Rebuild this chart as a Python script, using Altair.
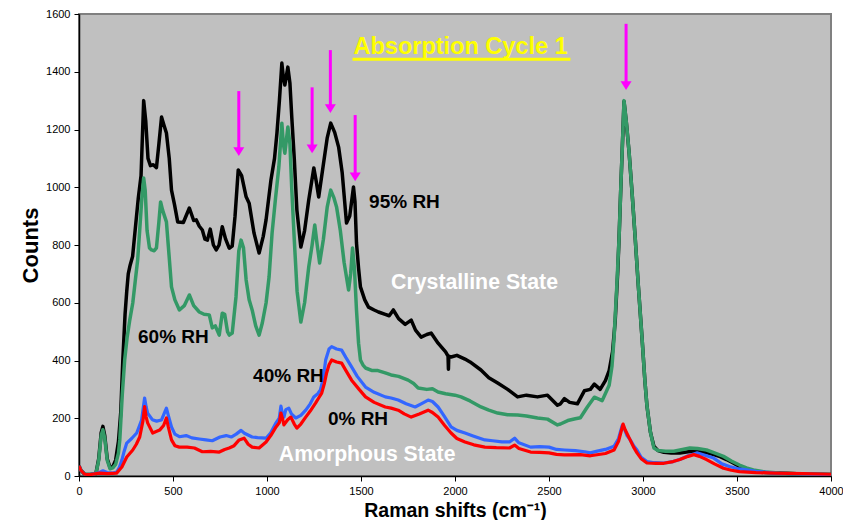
import altair as alt
import pandas as pd

# ---------------- data ----------------
series_names = ["95% RH", "60% RH", "40% RH", "0% RH"]
series_colors = ["#000000", "#339966", "#3366FF", "#FF0000"]
series_widths = [3.5, 3.5, 3.2, 3.2]

x_95 = [0, 10, 30, 60, 90, 105, 118, 127, 137, 150, 165, 180, 195, 210, 222, 233, 245, 254, 262, 272,
        285, 300, 315, 330, 344, 355, 367, 380, 395, 412, 425, 439, 452, 465, 480, 492, 508, 525, 555,
        587, 610, 624, 640, 656, 670, 683, 698, 715, 730, 745, 762, 780, 799, 815, 830, 847, 865, 889,
        905, 931, 958, 980, 995, 1021, 1040, 1053, 1066, 1079, 1087, 1095, 1111, 1122, 1132, 1145, 1159,
        1180, 1200, 1222, 1249, 1262, 1275, 1300, 1320, 1339, 1360, 1381, 1400, 1423, 1440, 1460, 1468,
        1476, 1487, 1497, 1520, 1540, 1570, 1593, 1629, 1650, 1672, 1700, 1735, 1767, 1790, 1820, 1850,
        1873, 1910, 1950, 1963, 1965, 1967, 1979, 2010, 2053, 2080, 2138, 2180, 2227, 2280, 2333, 2380,
        2439, 2492, 2545, 2561, 2582, 2610, 2651, 2688, 2720, 2741, 2772, 2800, 2820, 2838, 2852, 2865,
        2873, 2882, 2889, 2899, 2912, 2926, 2942, 2958, 2975, 2995, 3010, 3021, 3040, 3058, 3080, 3111,
        3150, 3196, 3240, 3286, 3330, 3376, 3410, 3444, 3480, 3513, 3550, 3587, 3650, 3725, 3850, 4000]
y_95 = [35, 20, 6, 5, 8, 60, 150, 172, 140, 60, 30, 32, 55, 120, 220, 400, 560, 640, 700, 730,
        760, 860, 960, 1040, 1300, 1230, 1100, 1075, 1078, 1068, 1150, 1243, 1215, 1188, 1100, 990, 940, 880, 878,
        928, 885, 887, 865, 852, 820, 817, 855, 800, 783, 800, 863, 820, 789, 796, 900, 1060, 1040, 967,
        945, 841, 772, 830, 887, 1025, 1100, 1188, 1300, 1430, 1380, 1354, 1416, 1360, 1240, 1100, 921,
        793, 850, 956, 1067, 1020, 966, 1080, 1170, 1222, 1190, 1139, 1050, 876, 900, 1001, 950,
        807, 720, 655, 610, 585, 575, 568, 560, 555, 575, 545, 525, 540, 505, 481, 490,
        495, 460, 430, 415, 370, 415, 412, 418, 405, 395, 367, 340, 322, 300, 274, 280,
        274, 280, 245, 250, 268, 255, 250, 295, 300, 318, 300, 330, 365, 430, 536, 700,
        829, 1000, 1121, 1297, 1220, 1121, 980, 829, 660, 477, 330, 243, 150, 103, 88, 82,
        80, 80, 84, 86, 82, 74, 67, 57, 45, 33, 22, 15, 12, 10, 7, 5]

x_60 = [0, 10, 30, 60, 90, 105, 118, 127, 137, 150, 165, 180, 195, 210, 217, 230, 243, 256, 270, 286,
        300, 312, 323, 334, 344, 352, 362, 375, 386, 400, 412, 425, 434, 445, 465, 481, 492, 510, 534,
        560, 587, 610, 640, 665, 693, 709, 725, 746, 762, 775, 790, 799, 815, 835, 850, 862, 875, 889,
        905, 921, 940, 958, 975, 995, 1011, 1027, 1045, 1063, 1079, 1087, 1095, 1111, 1122, 1132, 1145,
        1160, 1180, 1200, 1222, 1240, 1254, 1267, 1280, 1300, 1320, 1339, 1355, 1370, 1390, 1410, 1434,
        1445, 1455, 1465, 1476, 1487, 1497, 1510, 1524, 1560, 1590, 1629, 1660, 1700, 1751, 1780, 1804,
        1850, 1880, 1910, 1950, 2000, 2032, 2080, 2138, 2180, 2227, 2280, 2333, 2380, 2439, 2492, 2545,
        2561, 2600, 2640, 2667, 2704, 2741, 2783, 2820, 2835, 2846, 2860, 2873, 2882, 2889, 2899, 2912,
        2926, 2942, 2958, 2975, 2995, 3010, 3021, 3040, 3058, 3080, 3120, 3164, 3210, 3249, 3290, 3338,
        3380, 3428, 3470, 3513, 3550, 3587, 3650, 3725, 3850, 4000]
y_60 = [35, 20, 6, 5, 8, 55, 140, 160, 130, 55, 25, 28, 40, 80, 125, 280, 402, 480, 540, 599,
        680, 748, 852, 960, 1032, 990, 850, 790, 783, 780, 790, 880, 949, 920, 880, 748, 655, 610, 575,
        590, 627, 590, 568, 560, 558, 513, 520, 488, 564, 560, 500, 488, 495, 620, 780, 817, 790, 679,
        610, 575, 520, 488, 530, 599, 689, 841, 960, 1070, 1222, 1150, 1118, 1209, 1150, 990, 820,
        640, 533, 600, 724, 800, 869, 800, 738, 820, 930, 990, 965, 932, 850, 740, 644,
        700, 790, 720, 575, 460, 402, 385, 374, 365, 365, 357, 350, 345, 332, 320, 305,
        300, 302, 291, 285, 280, 274, 260, 239, 228, 218, 212, 211, 208, 201, 197, 177,
        180, 192, 198, 202, 239, 273, 261, 314, 380, 477, 650, 829, 1000, 1121, 1300, 1222,
        1121, 980, 829, 660, 477, 330, 243, 150, 97, 88, 86, 86, 92, 97, 95, 90,
        80, 68, 52, 38, 28, 21, 14, 10, 7, 5]

x_40 = [0, 10, 30, 60, 100, 127, 150, 180, 201, 215, 228, 240, 254, 280, 307, 333, 349, 357, 365, 390,
        413, 439, 465, 475, 492, 510, 534, 570, 600, 640, 675, 709, 750, 783, 810, 836, 850, 862, 880,
        921, 950, 995, 1020, 1048, 1065, 1074, 1082, 1090, 1100, 1116, 1130, 1153, 1180, 1206, 1230,
        1249, 1270, 1284, 1300, 1312, 1330, 1344, 1370, 1397, 1420, 1450, 1480, 1524, 1570, 1629, 1660,
        1698, 1740, 1788, 1820, 1857, 1880, 1910, 1940, 1979, 2010, 2053, 2100, 2159, 2200, 2250, 2290,
        2317, 2340, 2402, 2450, 2500, 2540, 2582, 2640, 2690, 2720, 2757, 2800, 2846, 2870, 2889, 2900,
        2915, 2931, 2950, 2968, 2990, 3021, 3060, 3111, 3160, 3196, 3240, 3286, 3330, 3376, 3420, 3460,
        3500, 3550, 3600, 3700, 3850, 4000]
y_40 = [35, 20, 6, 5, 10, 18, 12, 10, 14, 30, 55, 85, 114, 130, 149, 194, 270, 240, 218, 195,
        190, 194, 235, 210, 170, 145, 136, 140, 132, 128, 125, 122, 135, 140, 135, 145, 152, 158, 148,
        135, 133, 131, 150, 184, 200, 242, 215, 204, 230, 235, 215, 201, 210, 228, 250,
        274, 285, 298, 340, 402, 440, 448, 440, 436, 410, 378, 345, 308, 290, 274, 270,
        263, 250, 239, 250, 263, 258, 239, 210, 170, 158, 149, 138, 125, 122, 118, 118,
        131, 115, 100, 102, 100, 92, 90, 88, 84, 80, 86, 92, 103, 130, 174, 165,
        140, 126, 105, 90, 65, 50, 46, 45, 50, 57, 70, 80, 72, 62, 42, 33,
        26, 21, 16, 10, 7, 5]

x_0 = [0, 10, 30, 60, 110, 150, 200, 228, 254, 286, 305, 323, 340, 349, 357, 365, 392, 429, 450, 465,
       475, 492, 510, 534, 575, 614, 656, 700, 746, 775, 799, 825, 852, 878, 900, 921, 958, 995, 1020,
       1048, 1066, 1074, 1082, 1090, 1110, 1127, 1145, 1159, 1180, 1206, 1230, 1259, 1275, 1291, 1305,
       1317, 1330, 1344, 1370, 1397, 1420, 1450, 1490, 1524, 1570, 1629, 1660, 1698, 1730, 1767, 1810,
       1857, 1880, 1910, 1945, 1979, 2010, 2053, 2100, 2159, 2220, 2290, 2317, 2340, 2402, 2450, 2500,
       2540, 2582, 2667, 2720, 2800, 2846, 2870, 2894, 2905, 2920, 2931, 2950, 2968, 2990, 3021, 3070,
       3111, 3160, 3196, 3240, 3270, 3300, 3338, 3380, 3428, 3470, 3513, 3600, 3700, 3850, 4000]
y_0 = [35, 20, 6, 5, 10, 8, 10, 31, 66, 90, 110, 135, 190, 240, 205, 184, 149, 159, 175, 201,
       170, 125, 105, 100, 100, 97, 84, 85, 83, 92, 97, 105, 125, 131, 110, 100, 97, 118, 140,
       170, 185, 218, 200, 177, 195, 204, 180, 166, 180, 204, 225, 253, 270, 287, 320,
       357, 385, 402, 395, 391, 365, 332, 300, 274, 255, 239, 235, 228, 215, 204, 215,
       228, 220, 204, 175, 149, 130, 118, 108, 100, 98, 97, 107, 95, 83, 82, 80,
       75, 73, 74, 70, 78, 90, 120, 180, 160, 140, 126, 100, 80, 60, 45, 44,
       44, 50, 57, 68, 74, 68, 57, 42, 27, 20, 15, 12, 10, 8, 6]

series_x = [x_95, x_60, x_40, x_0]
series_y = [y_95, y_60, y_40, y_0]

# magenta arrows: wavenumber, top of shaft, tip (counts)
arrow_x = [850, 1240, 1337, 1469, 2910]
arrow_top = [1333, 1346, 1475, 1250, 1566]
arrow_tip = [1108, 1118, 1257, 1021, 1337]

# text annotations
ann_text = ["Absorption Cycle 1", "95% RH", "Crystalline State", "60% RH", "40% RH", "0% RH", "Amorphous State"]
ann_x = [1460, 1543, 1660, 314, 926, 1324, 1063]
ann_y = [1460, 929, 649, 462, 327, 177, 53]
ann_color = ["#FFFF00", "#000000", "#FFFFFF", "#000000", "#000000", "#000000", "#FFFFFF"]
ann_size = [23.5, 19, 21.3, 19, 19, 19, 21.2]

# underline of the title
underline_x = [1455, 2614]
underline_y = 1443

x_ticks = [0, 500, 1000, 1500, 2000, 2500, 3000, 3500, 4000]
y_ticks = [0, 200, 400, 600, 800, 1000, 1200, 1400, 1600]

FONT = "Liberation Sans"

xscale = alt.Scale(domain=[0, 4000], nice=False, zero=False)
yscale = alt.Scale(domain=[0, 1600], nice=False)

x_axis = alt.Axis(values=x_ticks, format="d", grid=False, tickSize=5, tickColor="black", tickWidth=1,
                  domainColor="black", domainWidth=1.5, labelFont=FONT, labelFontSize=11,
                  labelColor="black", labelPadding=4, labelFlush=False,
                  title="Raman shifts (cm\u207b\u00b9)", titleFont=FONT, titleFontSize=19.5,
                  titleFontWeight="bold", titleColor="black", titleY=34, titleBaseline="middle")
y_axis = alt.Axis(values=y_ticks, format="d", grid=False, tickSize=5, tickColor="black", tickWidth=1,
                  domainColor="black", domainWidth=1.5, labelFont=FONT, labelFontSize=11,
                  labelColor="black", labelPadding=4, labelFlush=False,
                  title="Counts", titleFont=FONT, titleFontSize=22, titleFontWeight="bold",
                  titleColor="black", titleX=-49, titleY=231, titleAngle=-90,
                  titleAlign="center", titleBaseline="middle")


def X(field):
    return alt.X(field, scale=xscale, axis=x_axis)


def Y(field):
    return alt.Y(field, scale=yscale, axis=y_axis)


layers = []
for i, name in enumerate(series_names):
    df = pd.DataFrame({"x": series_x[i], "y": series_y[i], "series": name})
    layers.append(
        alt.Chart(df).mark_line(color=series_colors[i], strokeWidth=series_widths[i],
                                strokeJoin="round", clip=True)
        .encode(x=X("x:Q"), y=Y("y:Q"), order="x:Q")
    )

arrows = pd.DataFrame({"x": arrow_x, "top": arrow_top, "tip": arrow_tip})
arrows["base"] = arrows["tip"] + 25
layers.append(
    alt.Chart(arrows).mark_rule(color="#FF00FF", strokeWidth=3)
    .encode(x=X("x:Q"), y=Y("top:Q"), y2="base:Q")
)
layers.append(
    alt.Chart(arrows).mark_point(shape="M-1,-1.6L1,-1.6L0,0Z", filled=True, size=121,
                                 color="#FF00FF", opacity=1, strokeWidth=0)
    .encode(x=X("x:Q"), y=Y("tip:Q"))
)

ann = pd.DataFrame({"text": ann_text, "x": ann_x, "y": ann_y, "color": ann_color, "size": ann_size})
layers.append(
    alt.Chart(ann).mark_text(font=FONT, fontWeight="bold", align="left", baseline="alphabetic")
    .encode(x=X("x:Q"), y=Y("y:Q"), text="text:N",
            color=alt.Color("color:N", scale=None), size=alt.Size("size:Q", scale=None))
)

ul = pd.DataFrame({"x": [underline_x[0]], "x2": [underline_x[1]], "y": [underline_y]})
layers.append(
    alt.Chart(ul).mark_rule(color="#FFFF00", strokeWidth=3)
    .encode(x=X("x:Q"), x2="x2:Q", y=Y("y:Q"))
)

chart = alt.layer(*layers).properties(
    width=752, height=462,
    autosize=alt.AutoSizeParams(type="none"),
    padding={"left": 71, "top": 6, "right": 12, "bottom": 44},
    background="white",
).configure_view(fill="#C0C0C0", stroke="#808080", strokeWidth=2)

chart.save("out.html", embed_options={"renderer": "svg", "actions": False})
